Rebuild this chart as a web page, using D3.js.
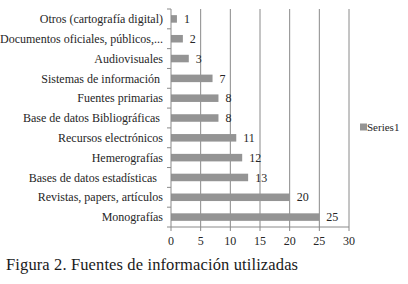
<!DOCTYPE html>
<html>
<head>
<meta charset="utf-8">
<script src="https://cdn.jsdelivr.net/npm/d3@7"></script>
<style>
  body { margin: 0; background: #fff; }
  text { font-family: 'Liberation Serif', 'DejaVu Serif', serif; }
</style>
</head>
<body>
<div id="chart"></div>
<script>
// categorías de arriba hacia abajo
const categories = [
    'Otros (cartografía digital)',
    'Documentos oficiales, públicos,...',
    'Audiovisuales',
    'Sistemas de información ',
    'Fuentes primarias',
    'Base de datos Bibliográficas ',
    'Recursos electrónicos',
    'Hemerografías',
    'Bases de datos estadísticas  ',
    'Revistas, papers, artículos',
    'Monografías'
];
const series1 = [1, 2, 3, 7, 8, 8, 11, 12, 13, 20, 25];
const xTicks = [0, 5, 10, 15, 20, 25, 30];
const seriesName = 'Series1';
const caption = 'Figura 2. Fuentes de información utilizadas';

const width = 408;
const height = 284;
const margin = { top: 9, right: 59, bottom: 57, left: 171 };
const graphWidth = width - margin.left - margin.right;
const graphHeight = height - margin.top - margin.bottom;

const svg = d3
    .select('#chart')
    .append('svg')
    .attr('width', width)
    .attr('height', height)
    .attr('viewBox', [0, 0, width, height]);

const graph = svg.append('g').attr('transform', `translate(${margin.left}, ${margin.top})`);

const x = d3.scaleLinear().domain([0, 30]).range([0, graphWidth]);
const y = d3.scaleBand().domain(categories).range([0, graphHeight]).paddingInner(0.62).paddingOuter(0.31);

// líneas de cuadrícula verticales
graph.append('g')
    .selectAll('line')
    .data(xTicks.slice(1))
    .join('line')
    .attr('x1', (d) => x(d))
    .attr('x2', (d) => x(d))
    .attr('y1', 0)
    .attr('y2', graphHeight)
    .attr('stroke', '#8a8a8a')
    .attr('stroke-width', 1);

// barras
graph.append('g')
    .selectAll('rect')
    .data(series1)
    .join('rect')
    .attr('x', x(0))
    .attr('y', (d, i) => y(categories[i]))
    .attr('width', (d) => x(d) - x(0))
    .attr('height', y.bandwidth())
    .attr('fill', '#949494');

// eje Y con marcas en los límites de cada categoría
const step = y.step();
const yAxisG = graph.append('g').attr('class', 'y-axis');
yAxisG.append('line')
    .attr('x1', 0).attr('x2', 0)
    .attr('y1', 0).attr('y2', graphHeight)
    .attr('stroke', '#8a8a8a');
yAxisG.selectAll('line.tick')
    .data(d3.range(categories.length + 1))
    .join('line')
    .attr('class', 'tick')
    .attr('x1', -4).attr('x2', 0)
    .attr('y1', (i) => i * step)
    .attr('y2', (i) => i * step)
    .attr('stroke', '#8a8a8a');
yAxisG.selectAll('text')
    .data(categories)
    .join('text')
    .attr('x', -8)
    .attr('y', (d) => y(d) + y.bandwidth() / 2)
    .attr('dy', '0.35em')
    .attr('text-anchor', 'end')
    .attr('font-size', 12)
    .attr('fill', '#262626')
    .style('white-space', 'pre')
    .text((d) => d);

// eje X
const xAxisG = graph.append('g').attr('transform', `translate(0, ${graphHeight})`);
xAxisG.append('line')
    .attr('x1', 0).attr('x2', graphWidth)
    .attr('stroke', '#8a8a8a');
xAxisG.selectAll('line.tick')
    .data(xTicks)
    .join('line')
    .attr('class', 'tick')
    .attr('x1', (d) => x(d)).attr('x2', (d) => x(d))
    .attr('y1', 0).attr('y2', 4)
    .attr('stroke', '#8a8a8a');
xAxisG.selectAll('text')
    .data(xTicks)
    .join('text')
    .attr('x', (d) => x(d))
    .attr('y', 18)
    .attr('text-anchor', 'middle')
    .attr('font-size', 12)
    .attr('fill', '#262626')
    .text((d) => d);

// etiquetas de valores
graph.append('g')
    .selectAll('text')
    .data(series1)
    .join('text')
    .attr('x', (d) => x(d) + 7)
    .attr('y', (d, i) => y(categories[i]) + y.bandwidth() / 2)
    .attr('dy', '0.35em')
    .attr('font-size', 12)
    .attr('fill', '#262626')
    .text((d) => d);

// leyenda
const legend = svg.append('g').attr('transform', 'translate(360, 127)');
legend.append('rect')
    .attr('x', 0).attr('y', -3.5)
    .attr('width', 7).attr('height', 7)
    .attr('fill', '#949494');
legend.append('text')
    .attr('x', 7)
    .attr('dy', '0.35em')
    .attr('font-size', 11)
    .attr('fill', '#262626')
    .text(seriesName);

// título de la figura
svg.append('text')
    .attr('x', 6)
    .attr('y', 270)
    .attr('font-size', 16.5)
    .attr('textLength', 292)
    .attr('lengthAdjust', 'spacing')
    .attr('fill', '#1a1a1a')
    .text(caption);
</script>
</body>
</html>
